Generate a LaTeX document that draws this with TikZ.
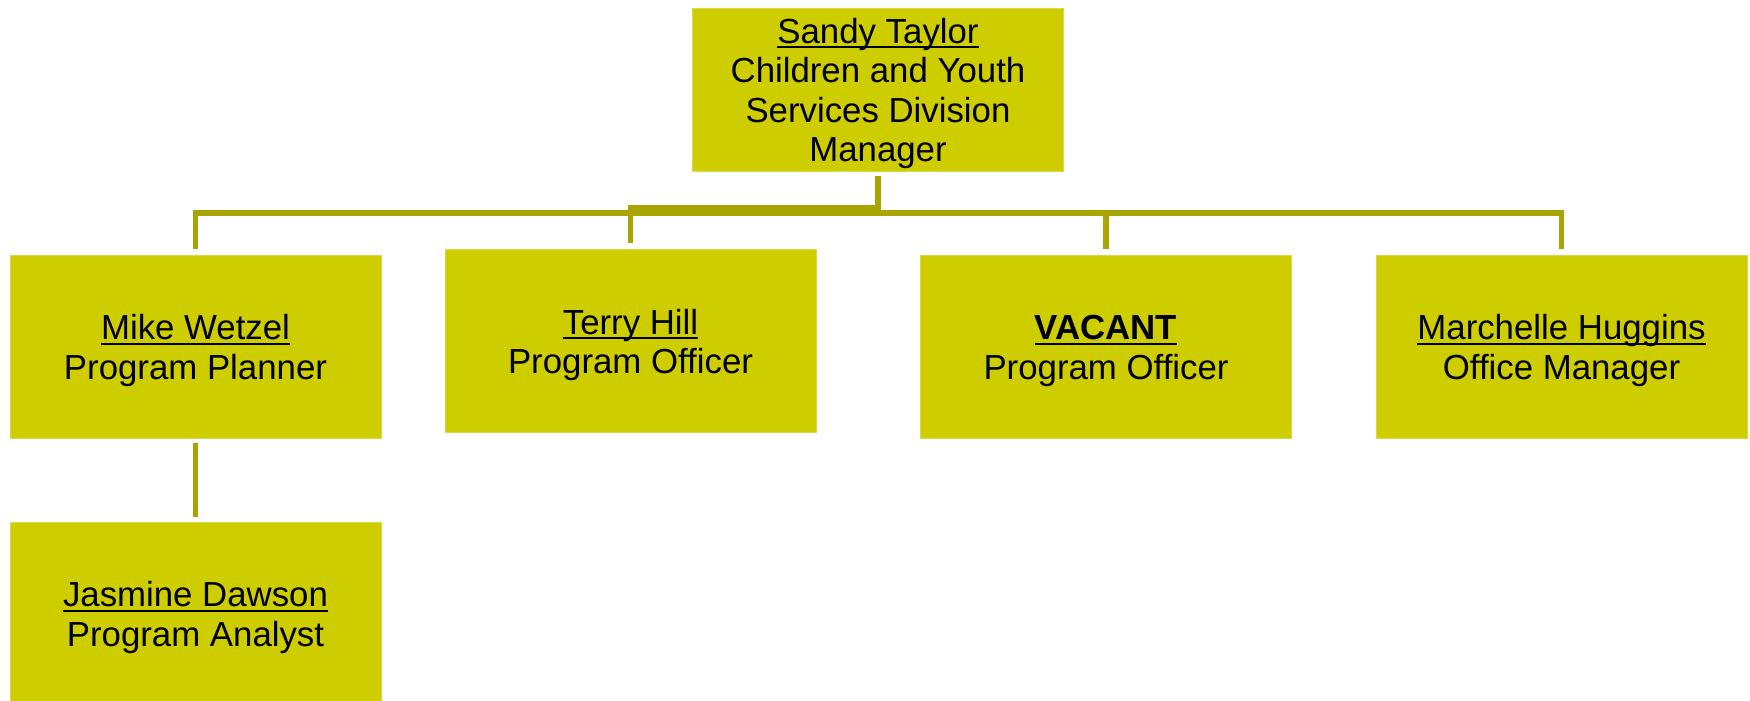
\documentclass[tikz,border=0pt]{standalone}
\usepackage{fontspec}
\setmainfont{Liberation Sans}
\usetikzlibrary{calc}
\definecolor{boxfill}{HTML}{CDCD00}
\definecolor{boxedge}{HTML}{D8D84A}
\definecolor{linecol}{HTML}{A8A400}
\newcommand{\ulname}[1]{\rule{0pt}{16.6pt}\setbox0\hbox{#1}\rlap{\rule[-2.6pt]{\wd0}{1pt}}\box0}
\begin{document}
\begin{tikzpicture}[x=0.5pt,y=-0.5pt,
  orgbox/.style={fill=boxfill, draw=boxedge, line width=0.4pt, minimum width=185.5pt,
    minimum height=91.5pt, inner sep=0pt, align=center,
    font=\fontsize{17.4}{19.75}\selectfont},
  conn/.style={draw=linecol, line width=2.7pt}]
\useasboundingbox (0,0) rectangle (1750,701);
\node[orgbox, minimum height=81.5pt] (sandy) at (878,89.5)
  {\ulname{Sandy Taylor}\\Children and Youth\\Services Division\\Manager};
\node[orgbox] (mike) at (195.5,346.5) {\ulname{Mike Wetzel}\\Program Planner};
\node[orgbox] (terry) at (630.5,341) {\ulname{Terry Hill}\\Program Officer};
\node[orgbox] (vacant) at (1106,346.5) {\ulname{\bfseries VACANT}\\Program Officer};
\node[orgbox] (marchelle) at (1561.5,346.5) {\ulname{Marchelle Huggins}\\Office Manager};
\node[orgbox] (jasmine) at (195.5,613.5) {\ulname{Jasmine Dawson}\\Program Analyst};
\coordinate (bus) at (878,213);
\coordinate (tbus) at (878,208);
\draw[conn] ([yshift=3pt]mike.north) |- (bus) -| ([yshift=3pt]marchelle.north);
\draw[conn] ([yshift=3pt]terry.north) |- (tbus);
\draw[conn] ([yshift=-2.5pt]sandy.south) -- (bus);
\draw[conn] ([yshift=3pt]vacant.north) -- (vacant.north |- bus);
\draw[conn] ([yshift=-2.5pt]mike.south) -- ([yshift=2.5pt]jasmine.north);
\end{tikzpicture}
\end{document}
